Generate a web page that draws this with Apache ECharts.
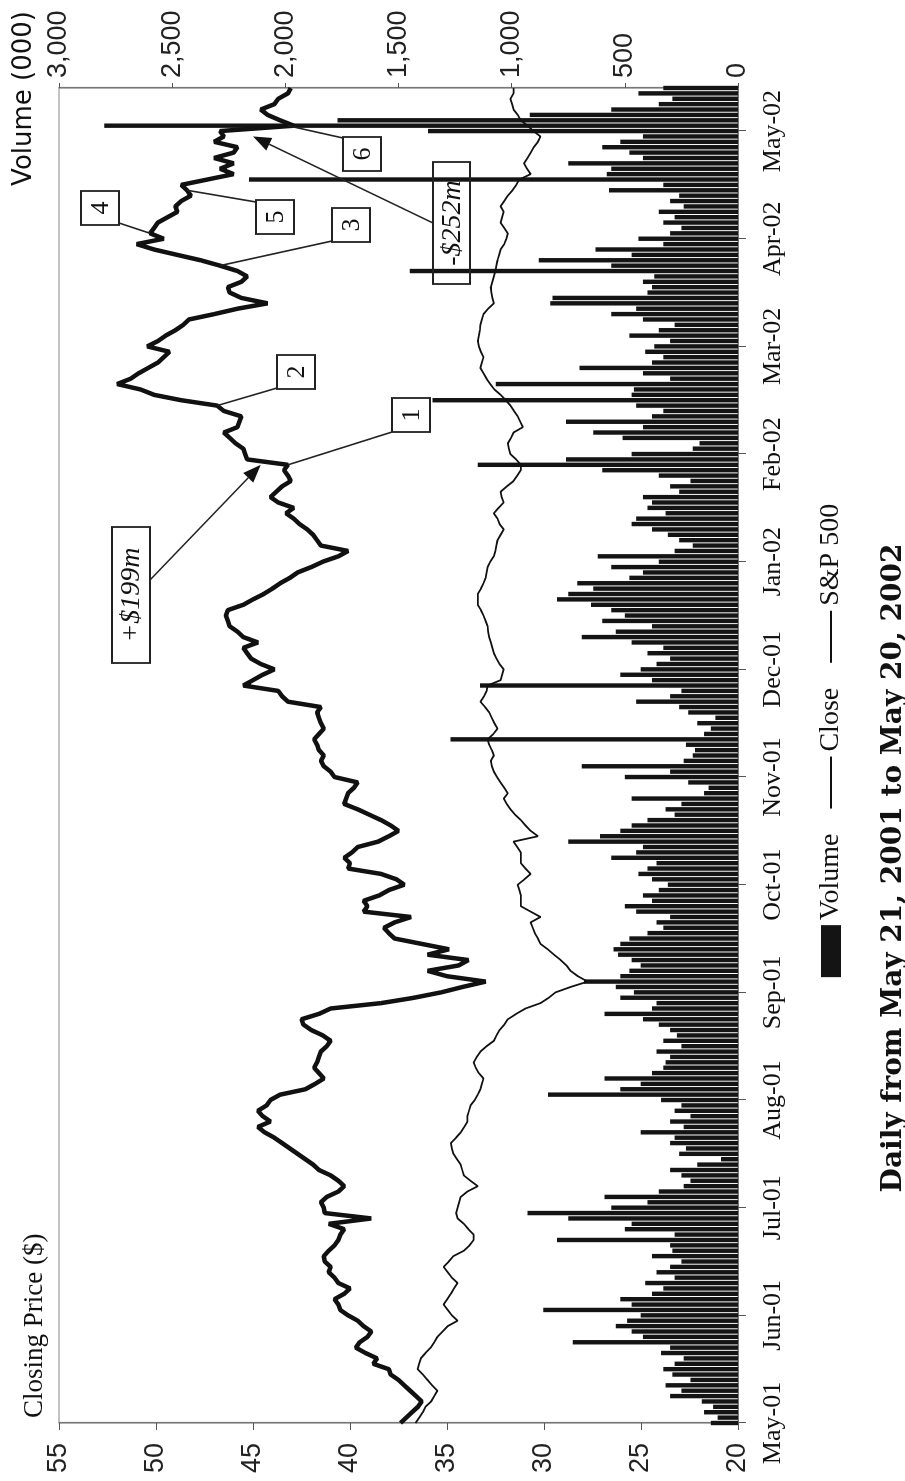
<!DOCTYPE html>
<html>
<head>
<meta charset="utf-8">
<script src="https://cdn.jsdelivr.net/npm/echarts@6/dist/echarts.min.js"></script>
<style>
html,body{margin:0;padding:0;background:#fff;overflow:hidden;width:905px;height:1481px;}
#wrap{position:absolute;left:0;top:0;width:1481px;height:905px;transform-origin:0 0;transform:translate(0,1481px) rotate(-90deg);background:#fff;}
</style>
</head>
<body>
<div id="wrap"></div>
<script>
// Month tick labels (one every 20 trading days)
const monthLabels = ['May-01','Jun-01','Jul-01','Aug-01','Sep-01','Oct-01','Nov-01','Dec-01','Jan-02','Feb-02','Mar-02','Apr-02','May-02'];

// Daily closing price ($)
const closePrice = [
37.4,37.1,36.8,36.5,36.3,36.6,36.9,37.2,37.5,37.9,
38.0,38.8,38.6,39.2,39.7,39.5,39.1,38.9,39.3,39.6,
40.1,40.5,40.6,40.8,40.3,40.0,40.6,40.8,41.1,41.0,
41.3,41.35,41.1,40.8,40.6,40.5,40.3,41.1,38.9,41.3,
41.35,41.5,41.2,40.6,40.3,40.6,41.0,41.6,41.9,42.3,
42.7,43.1,43.5,43.9,44.4,44.75,44.1,44.5,44.75,44.3,
44.1,43.6,42.3,41.8,41.35,41.6,41.85,41.7,41.6,41.5,
41.2,41.0,41.4,42.0,42.4,42.5,41.6,41.0,38.4,36.7,
35.3,34.2,33.0,35.0,36.0,34.4,33.9,36.0,34.9,36.3,
37.7,38.0,38.25,37.7,36.85,39.3,39.1,39.3,38.5,38.0,
37.2,37.6,38.4,40.1,40.0,40.3,39.9,39.6,38.55,38.0,
37.5,37.9,38.4,39.0,39.6,40.3,40.2,40.1,39.8,39.6,
40.8,41.0,41.35,41.5,41.35,41.6,41.7,41.85,41.6,41.35,
41.5,41.6,41.7,41.5,43.2,43.5,43.7,45.5,45.0,44.5,
43.9,44.6,45.1,45.3,45.5,44.75,45.5,45.8,46.2,46.3,
46.4,46.3,45.5,45.0,44.45,44.0,43.6,43.1,42.7,42.0,
41.4,40.6,40.1,41.5,41.7,41.9,42.2,42.6,42.9,43.3,
42.9,43.7,44.1,43.8,43.5,43.05,43.2,43.4,43.2,45.3,
45.4,45.5,45.9,46.2,46.5,45.8,45.7,45.6,46.5,46.85,
48.7,50.1,50.8,52.0,51.3,50.9,50.4,49.9,49.6,49.3,
50.45,49.9,49.5,49.0,48.6,48.3,47.0,45.8,44.25,45.6,
46.2,46.3,45.6,45.3,45.8,46.7,47.7,48.9,50.1,51.0,
49.6,50.3,50.1,49.9,49.4,48.9,49.0,48.7,48.2,48.4,
48.7,47.35,46.0,46.7,46.0,47.0,46.0,45.8,47.0,46.5,
46.7,42.9,43.6,44.25,44.6,43.9,43.7,43.2,43.05
];

// Daily S&P 500 index level
const sp500 = [
1302,1295,1288,1283,1272,1266,1260,1270,1279,1288,
1298,1295,1292,1283,1273,1266,1260,1250,1240,1221,
1232,1240,1248,1241,1234,1228,1221,1232,1240,1248,
1238,1229,1209,1198,1190,1190,1200,1209,1221,1224,
1221,1218,1215,1202,1182,1196,1209,1212,1215,1222,
1229,1232,1234,1224,1215,1208,1202,1202,1199,1196,
1188,1182,1177,1174,1171,1180,1186,1190,1184,1177,
1165,1151,1146,1140,1131,1124,1108,1090,1061,1045,
1032,1003,970,989,1003,1011,1022,1035,1047,1061,
1066,1072,1076,1080,1061,1080,1099,1099,1099,1102,
1105,1092,1080,1090,1099,1099,1099,1106,1113,1066,
1080,1090,1099,1110,1119,1126,1132,1124,1131,1138,
1145,1151,1155,1157,1151,1155,1160,1163,1152,1144,
1150,1155,1160,1168,1177,1170,1165,1163,1138,1135,
1132,1140,1146,1151,1154,1157,1160,1162,1163,1167,
1171,1176,1182,1182,1182,1176,1171,1167,1165,1163,
1158,1151,1148,1146,1144,1138,1132,1140,1144,1151,
1142,1132,1136,1138,1126,1113,1106,1099,1099,1108,
1119,1122,1124,1118,1113,1095,1100,1105,1112,1119,
1128,1138,1150,1158,1165,1171,1177,1174,1171,1176,
1180,1182,1180,1178,1177,1174,1171,1162,1151,1154,
1156,1157,1154,1151,1148,1146,1144,1141,1138,1131,
1127,1124,1131,1138,1135,1132,1138,1131,1124,1115,
1108,1102,1080,1087,1093,1086,1080,1074,1066,1061,
1075,1086,1099,1105,1113,1116,1119,1113,1113
];

// Daily volume (000)
const volume = [
120,90,150,110,160, 300,250,320,210,290,
330,280,240,340,300, 730,420,470,540,490,
430,860,470,520,380, 330,410,280,360,300,
250,380,290,300,800, 280,500,470,750,930,
560,400,590,350,240, 210,250,300,180,75,
260,230,300,280,430, 240,300,210,280,250,
340,840,520,430,590, 380,330,320,300,360,
250,330,270,300,350, 420,590,380,360,520,
460,540,680,520,480, 430,470,530,550,520,
480,400,330,360,300, 450,500,380,420,350,
310,380,440,400,360, 560,450,420,750,610,
520,470,400,280,320, 250,470,150,130,220,
500,300,690,240,200, 190,230,1270,150,120,
180,100,220,260,450, 300,250,1140,380,520,
430,360,300,400,330, 470,690,540,380,600,
500,560,650,800,750, 640,710,480,420,560,
350,620,280,200,260, 310,380,470,450,320,
400,380,420,260,300, 210,350,600,1150,760,
470,200,170,510,640, 420,760,380,330,450,
1350,470,460,1070,300, 420,700,380,330,410,
370,300,480,350,280, 420,560,450,830,820,
400,380,420,370,1450, 560,880,470,630,330,
440,300,250,330,280, 350,240,300,260,570,
330,2160,580,560,750, 420,480,600,520,420,
1370,2800,1770,920,560, 350,290,440,330
];

// Annotation texts and the trading day / price they point at
const noteLabels = ['1','2','3','4','5','6'];
const noteDays   = [178, 189, 215, 221, 229, 241];
const notePrices = [43.2, 46.85, 46.7, 50.3, 48.4, 43.2];
const arrowLabels = ['+$199m', '-$252m'];
const arrowDays   = [178, 239];
const arrowPrices = [44.6, 45.0];

const days = closePrice.map((_, i) => 'd' + i);

const chart = echarts.init(document.getElementById('wrap'), null, {renderer: 'canvas', width: 1481, height: 905});

const SERIF = '"Liberation Serif", "Times New Roman", serif';
const SANS = '"Liberation Sans", Arial, sans-serif';

chart.setOption({
  animation: false,
  backgroundColor: '#fff',
  title: [
    {text: 'Closing Price ($)', left: 58, top: 16, textStyle: {fontFamily: SERIF, fontSize: 27, fontWeight: 'normal', color: '#111'}},
    {text: 'Volume (000)', right: 6, top: 6, textStyle: {fontFamily: '"DejaVu Sans", sans-serif', fontSize: 26, fontWeight: 'normal', color: '#111'}}
  ],
  legend: {
    left: 'center', top: 812, itemWidth: 52, itemHeight: 20, itemGap: 24,
    textStyle: {fontFamily: SERIF, fontSize: 28, color: '#111'},
    data: [
      {name: 'Volume', icon: 'rect'},
      {name: 'Close', itemStyle: {opacity: 0}},
      {name: 'S&P 500', itemStyle: {opacity: 0}}
    ]
  },
  grid: {left: 58, right: 88, top: 59, bottom: 167, show: true, borderColor: '#888', borderWidth: 1.2, backgroundColor: 'transparent'},
  xAxis: {
    type: 'category', data: days, boundaryGap: false,
    axisLine: {lineStyle: {color: '#777', width: 1.2}},
    axisTick: {show: true, interval: 19, length: 8, lineStyle: {color: '#555'}},
    axisLabel: {interval: 19, margin: 22, fontFamily: SERIF, fontSize: 26, color: '#111',
      formatter: (v, idx) => monthLabels[Math.round(idx / 20)] || ''},
    splitLine: {show: false}
  },
  yAxis: [
    {type: 'value', min: 20, max: 55, interval: 5, position: 'left',
      axisLine: {show: true, lineStyle: {color: '#777', width: 1.2}},
      axisTick: {show: true, length: 7, lineStyle: {color: '#555'}},
      axisLabel: {margin: 20, fontFamily: SANS, fontSize: 27, color: '#222'},
      splitLine: {show: false}},
    {type: 'value', min: 0, max: 3000, interval: 500, position: 'right',
      axisLine: {show: true, lineStyle: {color: '#777', width: 1.2}},
      axisTick: {show: true, length: 5, lineStyle: {color: '#555'}},
      axisLabel: {margin: 10, fontFamily: SANS, fontSize: 27, color: '#222',
        formatter: v => v.toLocaleString('en-US')},
      splitLine: {show: false}},
    {type: 'value', min: 680, max: 1990, show: false, splitLine: {show: false}}
  ],
  series: [
    {name: 'Volume', type: 'bar', yAxisIndex: 1, data: volume, barWidth: '82%',
      itemStyle: {color: '#141414'}, z: 2},
    {name: 'Close', type: 'line', yAxisIndex: 0, data: closePrice, symbol: 'none',
      lineStyle: {color: '#111', width: 4.5}, itemStyle: {color: '#111'}, z: 5},
    {name: 'S&P 500', type: 'line', yAxisIndex: 2, data: sp500, symbol: 'none',
      lineStyle: {color: '#111', width: 1.8}, itemStyle: {color: '#111'}, z: 4}
  ]
});

// Annotation layout (box positions in chart pixel space)
const boxes = [
  {x: 1049, y: 392, w: 34, h: 38, ax: 1049, ay: 392},
  {x: 1092, y: 277, w: 34, h: 38, ax: 1093, ay: 277},
  {x: 1239, y: 332, w: 34, h: 38, ax: 1240, ay: 332},
  {x: 1256, y: 81,  w: 34, h: 38, ax: 1258, ay: 119},
  {x: 1247, y: 256, w: 34, h: 38, ax: 1279, ay: 256},
  {x: 1310, y: 343, w: 34, h: 38, ax: 1343, ay: 343}
];
const arrowBoxes = [
  {x: 818, y: 112, w: 136, h: 38, ax: 901, ay: 150},
  {x: 1197, y: 433, w: 122, h: 37, ax: 1258, ay: 433}
];

function px(i, v) {
  return chart.convertToPixel({xAxisIndex: 0, yAxisIndex: 0}, [days[i], v]);
}

const g = [];
noteLabels.forEach((lab, k) => {
  const b = boxes[k];
  const p = px(noteDays[k], notePrices[k]);
  g.push({type: 'line', shape: {x1: b.ax, y1: b.ay, x2: p[0], y2: p[1]}, style: {stroke: '#222', lineWidth: 1.6}, z: 20});
  g.push({type: 'rect', shape: {x: b.x, y: b.y, width: b.w, height: b.h}, style: {fill: 'rgba(255,255,255,0)', stroke: '#222', lineWidth: 1.8}, z: 21});
  g.push({type: 'text', style: {text: lab, x: b.x + b.w / 2, y: b.y + b.h / 2 + 1, align: 'center', verticalAlign: 'middle', font: '26px ' + SERIF, fill: '#111'}, z: 22});
});
arrowLabels.forEach((lab, k) => {
  const b = arrowBoxes[k];
  const p = px(arrowDays[k], arrowPrices[k]);
  const dx = p[0] - b.ax, dy = p[1] - b.ay;
  const len = Math.sqrt(dx * dx + dy * dy);
  const ux = dx / len, uy = dy / len;
  const hl = 18, hw = 7;
  const bx = p[0] - ux * hl, by = p[1] - uy * hl;
  g.push({type: 'line', shape: {x1: b.ax, y1: b.ay, x2: bx, y2: by}, style: {stroke: '#222', lineWidth: 1.6}, z: 20});
  g.push({type: 'polygon', shape: {points: [[p[0], p[1]], [bx - uy * hw, by + ux * hw], [bx + uy * hw, by - ux * hw]]}, style: {fill: '#111'}, z: 20});
  g.push({type: 'rect', shape: {x: b.x, y: b.y, width: b.w, height: b.h}, style: {fill: 'rgba(255,255,255,0)', stroke: '#222', lineWidth: 1.8}, z: 21});
  g.push({type: 'text', style: {text: lab, x: b.x + b.w / 2, y: b.y + b.h / 2 + 1, align: 'center', verticalAlign: 'middle', font: 'italic 28px ' + SERIF, fill: '#111'}, z: 22});
});
// Footer caption
g.push({type: 'text', style: {text: 'Daily from May 21, 2001 to May 20, 2002', x: 613, y: 894, align: 'center', verticalAlign: 'middle', font: 'bold 28px "DejaVu Serif", serif', fill: '#111'}, z: 22});

chart.setOption({graphic: g});
</script>
</body>
</html>
